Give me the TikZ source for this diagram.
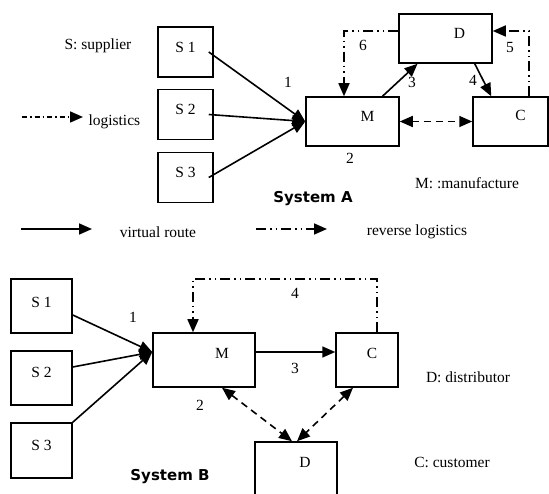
\documentclass[tikz,border=0pt]{standalone}
\usepackage{fontspec}
\setmainfont{Liberation Serif}
\newfontfamily\sysfont{DejaVu Sans}
\usetikzlibrary{arrows.meta}
\tikzset{
  box/.style={draw, line width=1.5pt, inner sep=0pt},
  flow/.style={line width=1.6pt},
  revflow/.style={flow, dash pattern=on 10pt off 4pt on 1.5pt off 4pt on 1.5pt off 4pt},
  logflow/.style={flow, dash pattern=on 5pt off 3pt on 1.5pt off 3pt},
  dashflow/.style={flow, dash pattern=on 7pt off 5pt},
  sysname/.style={font=\sysfont\bfseries\fontsize{15}{18}\selectfont},
}

\begin{document}
\begin{tikzpicture}[x=1pt, y=-1pt, >={Triangle[length=13pt,width=11pt]},
    font=\fontsize{15.5}{18}\selectfont]
    \clip (0,0) rectangle (549,494);
    % system A
    \node[box, minimum width=55pt, minimum height=50pt, label={[yshift=5pt]center:S 1}] (s1a) at (185.5,52) {};
    \node[box, minimum width=55pt, minimum height=50pt, label={[yshift=5pt]center:S 2}] (s2a) at (185.5,114.5) {};
    \node[box, minimum width=55pt, minimum height=50pt, label={[yshift=5pt]center:S 3}] (s3a) at (185.5,177.5) {};
    \node[box, minimum width=93pt, minimum height=49pt, label={[xshift=15pt,yshift=5pt]center:M}] (ma) at (352.5,121.5) {};
    \node[box, minimum width=93pt, minimum height=49pt, label={[xshift=14pt,yshift=5pt]center:D}] (da) at (445.5,38.5) {};
    \node[box, minimum width=75pt, minimum height=49pt, label={[xshift=10pt,yshift=6pt]center:C}] (ca) at (510.5,121.5) {};
    \draw[->, flow] ([xshift=-5pt]s1a.east) -- (ma.west);
    \draw[->, flow] ([xshift=-5pt]s2a.east) -- (ma.west);
    \draw[->, flow] ([xshift=-5pt]s3a.east) -- (ma.west);
    \draw[->, flow] ([xshift=30pt]ma.north) -- ([xshift=-28pt]da.south);
    \draw[->, flow] ([xshift=-18pt]da.south east) -- ([xshift=19pt]ca.north west);
    \draw[<->, dashflow] (ma.east) -- (ca.west);
    \draw[->, revflow] ([yshift=7.5pt]da.west) -| ([xshift=-8.5pt]ma.north);
    \draw[->, revflow] ([xshift=18.5pt]ca.north) |- ([yshift=7.5pt]da.east);
    \node (n1a) at (288,82) {1};
    \node (n2a) at (350,158) {2};
    \node (n3a) at (412,82) {3};
    \node (n4a) at (473,80) {4};
    \node (n5a) at (510,48) {5};
    \node (n6a) at (363,45) {6};
    \node (supp) at (98,46) {S: supplier};
    \node[anchor=west] (logi) at (85,122) {logistics};
    \coordinate (logs) at (22,117);
    \coordinate (loge) at (83,117);
    \draw[->, logflow] (logs) -- (loge);
    \node (manu) at (467,183) {M: :manufacture};
    \node[sysname] (sysa) at (313,199) {System A};
    % legend
    \coordinate (vrs) at (21,229);
    \coordinate (vre) at (92,229);
    \draw[->, flow] (vrs) -- (vre);
    \node (vr) at (158,232) {virtual route};
    \coordinate (rls) at (256,229);
    \coordinate (rle) at (327,229);
    \draw[->, revflow] (rls) -- (rle);
    \node (rl) at (417,232) {reverse logistics};
    % system B
    \node[box, minimum width=61pt, minimum height=54pt, label={[yshift=4pt]center:S 1}] (s1b) at (41.5,306) {};
    \node[box, minimum width=61pt, minimum height=54pt, label={[yshift=6pt]center:S 2}] (s2b) at (41.5,378) {};
    \node[box, minimum width=61pt, minimum height=55pt, label={[yshift=5pt]center:S 3}] (s3b) at (41.5,450.5) {};
    \node[box, minimum width=102pt, minimum height=54pt, label={[xshift=18pt,yshift=7pt]center:M}] (mb) at (204,360) {};
    \node[box, minimum width=62pt, minimum height=54pt, label={[xshift=5pt,yshift=7pt]center:C}] (cb) at (367,360) {};
    \node[box, minimum width=82pt, minimum height=64pt, label={[xshift=9pt,yshift=12pt]center:D}] (db) at (296,474) {};
    \draw[->, flow] ([yshift=-9pt]s1b.east) -- ([yshift=8pt]mb.west);
    \draw[->, flow] ([yshift=11pt]s2b.east) -- ([yshift=8pt]mb.west);
    \draw[->, flow] (s3b.north east) -- ([yshift=8pt]mb.west);
    \draw[->, flow] ([yshift=8pt]mb.east) -- ([yshift=8pt]cb.west);
    \coordinate (topb) at (193,279);
    \draw[->, revflow] ([xshift=10pt]cb.north) |- (topb) -- ([xshift=-11pt]mb.north);
    \draw[<->, dashflow] ([xshift=18pt]mb.south) -- ([xshift=-4pt]db.north);
    \draw[<->, dashflow] ([xshift=-14pt]cb.south) -- ([xshift=1pt]db.north);
    \node (n1b) at (133,317) {1};
    \node (n2b) at (200,405) {2};
    \node (n3b) at (295,368) {3};
    \node (n4b) at (295,293) {4};
    \node (dist) at (468,377) {D: distributor};
    \node (cust) at (452,462) {C: customer};
    \node[sysname] (sysb) at (170,477) {System B};
\end{tikzpicture}
\end{document}
